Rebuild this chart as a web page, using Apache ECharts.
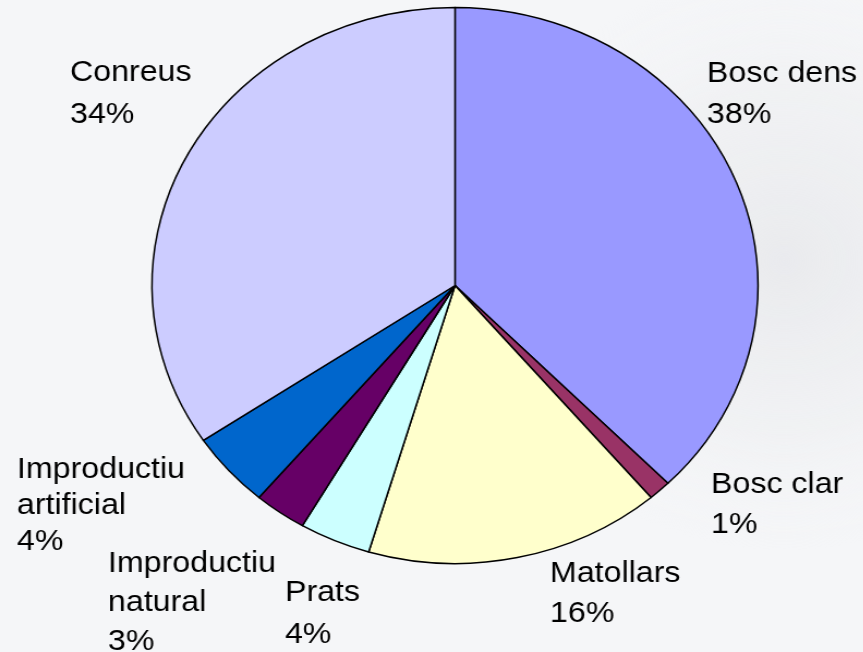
<!DOCTYPE html>
<html>
<head>
<meta charset="utf-8">
<script src="https://cdn.jsdelivr.net/npm/echarts@6/dist/echarts.min.js"></script>
<style>
  html, body { margin: 0; padding: 0; background: #f5f6f8; overflow: hidden; }
  #chart { width: 792px; height: 652px; transform: scaleX(1.09); transform-origin: 0 0; }
</style>
</head>
<body>
<div id="chart"></div>
<script>
// Land-cover shares (percent)
const categories = ['Bosc dens', 'Bosc clar', 'Matollars', 'Prats', 'Improductiu natural', 'Improductiu artificial', 'Conreus'];
const shares = [37.6, 1.2, 15.8, 3.8, 2.8, 4.4, 34.4];
const colors = ['#9999ff', '#993366', '#ffffcc', '#ccffff', '#660066', '#0066cc', '#ccccff'];

// Label anchor points (top-left of each text block, page pixels) and line spacing
const labelSpots = [
  [707, 53], [711, 465], [550, 554], [285, 572], [108, 544], [17, 452], [70, 52]
];
const labelLeading = [41, 40, 40, 42, 39, 36, 42];
const SX = 1.09;

const chart = echarts.init(document.getElementById('chart'), null, { renderer: 'canvas' });

chart.setOption({
  backgroundColor: 'transparent',
  animation: false,
  graphic: [{
    type: 'rect',
    silent: true,
    z: -10,
    shape: { x: 430, y: 0, width: 362, height: 652 },
    style: {
      fill: {
        type: 'radial', x: 0.8, y: 0.4, r: 0.8,
        colorStops: [
          { offset: 0, color: 'rgba(232,233,236,0.9)' },
          { offset: 0.6, color: 'rgba(238,239,241,0.6)' },
          { offset: 1, color: 'rgba(245,246,248,0)' }
        ]
      }
    }
  }],
  series: [{
    type: 'pie',
    center: [455 / SX, 285.5],
    radius: 278,
    startAngle: 90,
    clockwise: true,
    avoidLabelOverlap: false,
    percentPrecision: 0,
    data: categories.map((name, i) => ({
      name: name,
      value: shares[i],
      itemStyle: { color: colors[i] },
      label: { lineHeight: labelLeading[i] }
    })),
    itemStyle: { borderColor: '#000', borderWidth: 1.5 },
    label: {
      show: true,
      position: 'outside',
      color: '#000',
      fontFamily: 'Liberation Sans, Arial, sans-serif',
      fontSize: 29.5,
      formatter: p => p.name.replace('Improductiu ', 'Improductiu\n') + '\n' + p.percent + '%'
    },
    labelLine: { show: false },
    labelLayout: params => {
      const s = labelSpots[params.dataIndex];
      return { x: s[0] / SX, y: s[1], align: 'left', verticalAlign: 'top' };
    },
    emphasis: { disabled: true }
  }]
});
</script>
</body>
</html>
